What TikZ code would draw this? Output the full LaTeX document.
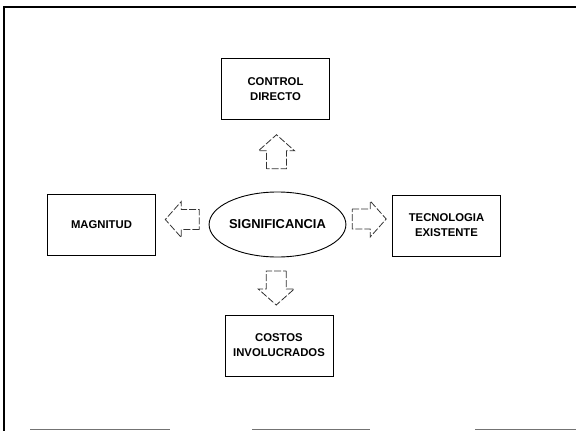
\documentclass[tikz,border=0pt]{standalone}
\usepackage{fontspec}
\setmainfont{Liberation Sans}
\usetikzlibrary{calc,shapes.geometric}
\tikzset{
  bx/.style={rectangle,draw=black,line width=.9pt,minimum width=108pt,minimum height=61pt,
    inner sep=2pt,align=center,font=\fontsize{11.3}{15}\selectfont\bfseries},
  sg/.style={ellipse,draw=black,line width=.9pt,minimum width=113pt,minimum height=65pt,
    inner sep=0pt,font=\fontsize{12.9}{14}\selectfont\bfseries},
  blk/.style={draw=black!80,line width=.8pt,dash pattern=on 7pt off 2pt},
  frm/.style={draw=black,line width=1.6pt},
  frg/.style={draw=black!55,line width=1.4pt},
  pics/blkarrow/.style={code={
    \draw[blk] (-17,-10) -- (1,-10) -- (1,-18) -- (17,0) -- (1,18) -- (1,10) -- (-17,10) -- cycle;
  }},
}
\begin{document}
\begin{tikzpicture}[x=1pt,y=-1pt]
\useasboundingbox (0,0) rectangle (576,431);
% frame of the scanned page
\draw[frm] (4,431) -- (4,7) -- (576,7);
\draw[frg] (30,429.5) -- (170,429.5);
\draw[frg] (252,429.5) -- (370,429.5);
\draw[frg] (475,429.5) -- (576,429.5);
% the centre and its four factors
\node[sg] (sig) at (277.5,224.5) {SIGNIFICANCIA};
\node[bx] (ctrl) at (275.5,89) {CONTROL\\ DIRECTO};
\node[bx] (mag) at (101.5,224.5) {MAGNITUD};
\node[bx] (tec) at (446.5,225.5) {TECNOLOGIA\\ EXISTENTE};
\node[bx] (cost) at (279,345.5) {COSTOS\\ INVOLUCRADOS};
% block arrows
\pic[rotate=90] at ($(sig.north)!0.5!(ctrl.south)+(0,-4)$) {blkarrow};
\pic[rotate=180] at ($(sig.west)!0.5!(mag.east)+(0,-5)$) {blkarrow};
\pic at ($(sig.east)!0.5!(tec.west)+(0,-6)$) {blkarrow};
\pic[rotate=-90] at ($(sig.south)!0.5!(cost.north)+(-2,2)$) {blkarrow};
\end{tikzpicture}
\end{document}
